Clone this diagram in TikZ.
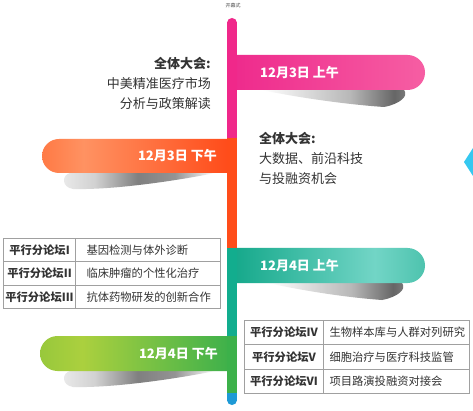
\documentclass[tikz,border=0pt]{standalone}
\usepackage{fontspec}
\setmainfont{Noto Sans CJK SC}
\usetikzlibrary{positioning}

\definecolor{txtgray}{HTML}{333333}
\definecolor{rulegray}{HTML}{A0A0A0}
\definecolor{pinkbar}{HTML}{F0288A}
\definecolor{pinkL}{HTML}{EE2A8C}
\definecolor{pinkR}{HTML}{F65EA3}
\definecolor{orangebar}{HTML}{FF4D1A}
\definecolor{orangeL}{HTML}{FF7A45}
\definecolor{orangeG}{HTML}{FF9262}
\definecolor{orangeR}{HTML}{FF4A18}
\definecolor{tealbar}{HTML}{12AD8E}
\definecolor{tealL}{HTML}{14A88A}
\definecolor{tealG}{HTML}{72D5C6}
\definecolor{tealR}{HTML}{4EC3AE}
\definecolor{greenbar}{HTML}{3CB14A}
\definecolor{greenL}{HTML}{98C83C}
\definecolor{greenG}{HTML}{ABD03E}
\definecolor{greenR}{HTML}{3CB04B}
\definecolor{bluebar}{HTML}{1E9AD6}
\definecolor{cyanmark}{HTML}{35C8F0}

\pgfdeclarehorizontalshading{orangeband}{100bp}{color(0bp)=(orangeL); color(25bp)=(orangeL); color(36bp)=(orangeG); color(75bp)=(orangeR); color(100bp)=(orangeR)}
\pgfdeclarehorizontalshading{tealband}{100bp}{color(0bp)=(tealL); color(25bp)=(tealL); color(62bp)=(tealG); color(75bp)=(tealR); color(100bp)=(tealR)}
\pgfdeclarehorizontalshading{greenband}{100bp}{color(0bp)=(greenL); color(25bp)=(greenL); color(36bp)=(greenG); color(75bp)=(greenR); color(100bp)=(greenR)}
% shadows under the banners
\pgfdeclarehorizontalshading{shadeR}{100bp}{color(0bp)=(white); color(25bp)=(white); color(55bp)=(black!28); color(70bp)=(black!60); color(75bp)=(black!50); color(100bp)=(black!50)}
\pgfdeclarehorizontalshading{shadeL}{100bp}{color(0bp)=(black!8); color(25bp)=(black!8); color(36bp)=(black!18); color(50bp)=(black!50); color(62bp)=(black!42); color(75bp)=(white); color(100bp)=(white)}

\tikzset{
  bandtxt/.style={font=\fontsize{13}{20}\selectfont\bfseries, text=white, inner sep=0pt},
  talktxt/.style={font=\fontsize{13}{20}\selectfont, text=txtgray, inner sep=0pt},
  forumhead/.style={draw=rulegray, line width=1pt, anchor=north west, inner sep=0pt,
    font=\fontsize{11.3}{13}\selectfont\bfseries, text=txtgray},
  forumbody/.style={draw=rulegray, line width=1pt, anchor=north west, inner ysep=0pt,
    align=left, font=\fontsize{11.3}{13}\selectfont, text=txtgray},
  barline/.style={line width=9.5pt}
}

\begin{document}
\begin{tikzpicture}[x=1pt,y=-1pt]
\useasboundingbox (0,0) rectangle (473,411);
\clip (0,0) rectangle (473,411);
\fill[white] (0,0) rectangle (473,411);

\node[font=\fontsize{5}{6}\selectfont, text=black!70, inner sep=0pt] (opening) at (233,6) {开幕式};

% shadows
\path[shading=shadeR] (262,90) -- (404,90) .. controls (409,96) and (400,104) .. (384,107)
  .. controls (340,104) and (290,96) .. (262,90) -- cycle;
\path[shading=shadeL] (215,173) -- (70,173) .. controls (62,175) and (61,187) .. (73,189)
  .. controls (110,190) and (170,182) .. (215,173) -- cycle;
\path[shading=shadeR] (268,283) -- (402,283) .. controls (407,289) and (398,297) .. (382,300)
  .. controls (340,297) and (295,289) .. (268,283) -- cycle;
\path[shading=shadeL] (215,371) -- (70,371) .. controls (62,373) and (61,385) .. (73,387)
  .. controls (110,388) and (170,380) .. (215,371) -- cycle;

% banners
\path[left color=pinkL, right color=pinkR] (232,55) -- (407.5,55)
  arc[start angle=-90, end angle=90, radius=17.5] -- (232,90) -- cycle;
\path[shading=orangeband] (232,139) -- (59,139)
  arc[start angle=-90, end angle=-270, radius=17] -- (232,173) -- cycle;
\path[shading=tealband] (232,248) -- (407.5,248)
  arc[start angle=-90, end angle=90, radius=17.5] -- (232,283) -- cycle;
\path[shading=greenband] (232,336) -- (57.5,336)
  arc[start angle=-90, end angle=-270, radius=17.5] -- (232,371) -- cycle;

\node[bandtxt, anchor=west] (day1am) at (260,72.5) {12月3日 上午};
\node[bandtxt, anchor=east] (day1pm) at (217,156) {12月3日 下午};
\node[bandtxt, anchor=west] (day2am) at (260,265.5) {12月4日 上午};
\node[bandtxt, anchor=east] (day2pm) at (218,353.5) {12月4日 下午};

% timeline
\coordinate (b0) at (232,22.75);
\coordinate (b1) at (232,138);
\coordinate (b2) at (232,248);
\coordinate (b3) at (232,336);
\coordinate (b4) at (232,393);
\coordinate (b5) at (232,400.25);
\draw[barline, bluebar, line cap=round] (b4) -- (b5);
\draw[barline, pinkbar, line cap=round] (b0) -- (b1);
\draw[barline, orangebar] (b1) -- (b2);
\draw[barline, tealbar] (b2) -- (b3);
\draw[barline, greenbar] (b3) -- (b4);

\fill[cyanmark] (464,162) -- (473,148) -- (480,148) -- (480,176) -- (473,176) -- cycle;

% plenary sessions
\node[talktxt, anchor=east, align=right] (plenaryA) at (211,83)
  {\textbf{全体大会:}\\中美精准医疗市场\\分析与政策解读};
\node[talktxt, anchor=west, align=left] (plenaryB) at (259,158)
  {\textbf{全体大会:}\\大数据、前沿科技\\与投融资机会};

% parallel forums
\foreach \i/\lab/\txt in {1/I/基因检测与体外诊断,2/II/临床肿瘤的个性化治疗,3/III/抗体药物研发的创新合作} {
  \node[forumhead, minimum width=72pt, minimum height=23.33pt] (lh\i) at (3,{238+23.33*(\i-1)}) {平行分论坛\lab};
  \node[forumbody, inner xsep=11pt, text width=123pt, minimum height=23.33pt] (lb\i) at (75,{238+23.33*(\i-1)}) {\txt};
}
\foreach \i/\lab/\txt in {1/IV/生物样本库与人群对列研究,2/V/细胞治疗与医疗科技监管,3/VI/项目路演投融资对接会} {
  \node[forumhead, minimum width=79pt, minimum height=24.33pt] (rh\i) at (244,{320+24.33*(\i-1)}) {平行分论坛\lab};
  \node[forumbody, inner xsep=6pt, text width=134pt, minimum height=24.33pt] (rb\i) at (323,{320+24.33*(\i-1)}) {\txt};
}
\end{tikzpicture}
\end{document}
